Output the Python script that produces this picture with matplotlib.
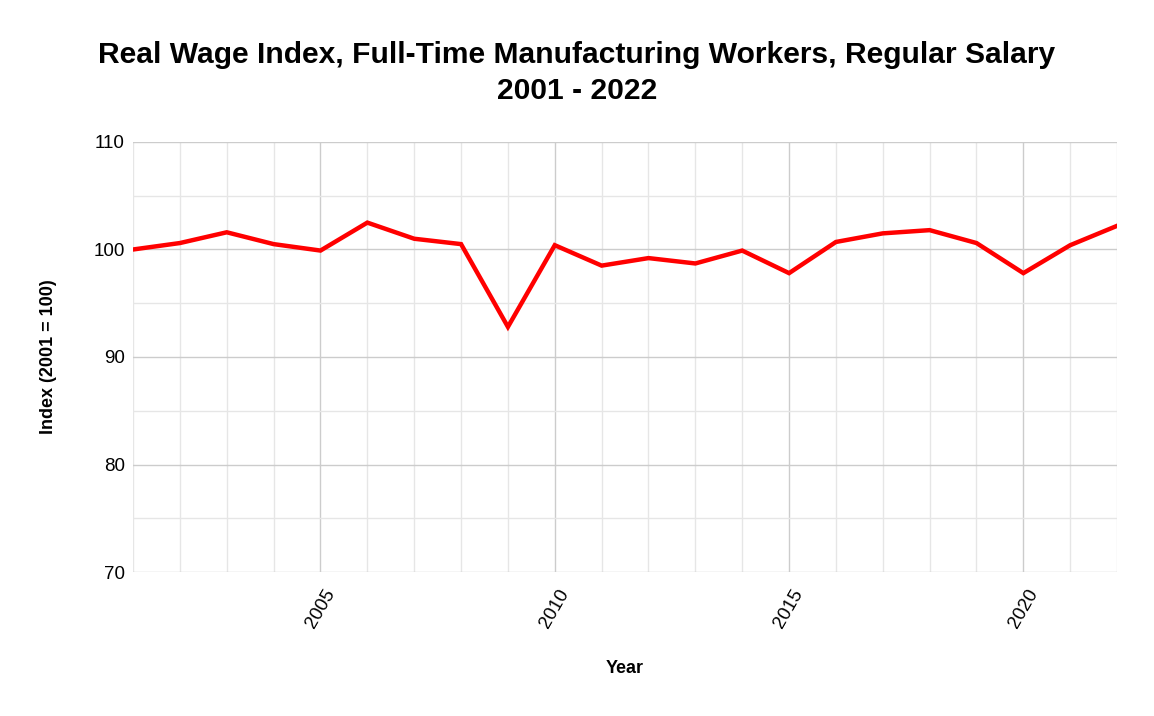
import numpy as np, matplotlib
matplotlib.use('Agg'); import matplotlib.pyplot as plt
from matplotlib.ticker import MultipleLocator

years = list(range(2001, 2023))
index = [100.0, 100.6, 101.6, 100.5, 99.9, 102.5, 101.0, 100.5, 92.8, 100.4, 98.5,
         99.2, 98.7, 99.9, 97.8, 100.7, 101.5, 101.8, 100.6, 97.8, 100.4, 102.2]

plt.rcParams['font.family'] = ['Liberation Sans', 'DejaVu Sans']
fig = plt.figure(figsize=(11.54, 7.16), dpi=100)
ax = fig.add_axes([0.1153, 0.2011, 0.8527, 0.6006])
ax.plot(years, index, color='#ff0000', lw=3.2, solid_joinstyle='miter', zorder=3)

ax.set_xlim(2001, 2022); ax.set_ylim(70, 110)
ax.xaxis.set_major_locator(MultipleLocator(5)); ax.xaxis.set_minor_locator(MultipleLocator(1))
ax.yaxis.set_major_locator(MultipleLocator(10)); ax.yaxis.set_minor_locator(MultipleLocator(5))
ax.grid(which='major', color='#cccccc', lw=1)
ax.grid(which='minor', color='#e6e6e6', lw=1)
for s in ax.spines.values(): s.set_visible(False)
ax.tick_params(which='both', length=0)
ax.tick_params(axis='x', labelsize=13.5, labelrotation=60, pad=10)
ax.tick_params(axis='y', labelsize=13.5, pad=6)
for t in ax.get_xticklabels():
    t.set_ha('center'); t.set_va('top')
ax.set_xlabel('Year', fontsize=13, fontweight='bold', labelpad=21)
ax.set_ylabel('Index (2001 = 100)', fontsize=13, fontweight='bold', labelpad=26)
fig.suptitle('Real Wage Index, Full-Time Manufacturing Workers, Regular Salary\n2001 - 2022',
             fontsize=21.6, fontweight='bold', y=0.943, linespacing=1.38)
fig.savefig('out.png', dpi=100)
